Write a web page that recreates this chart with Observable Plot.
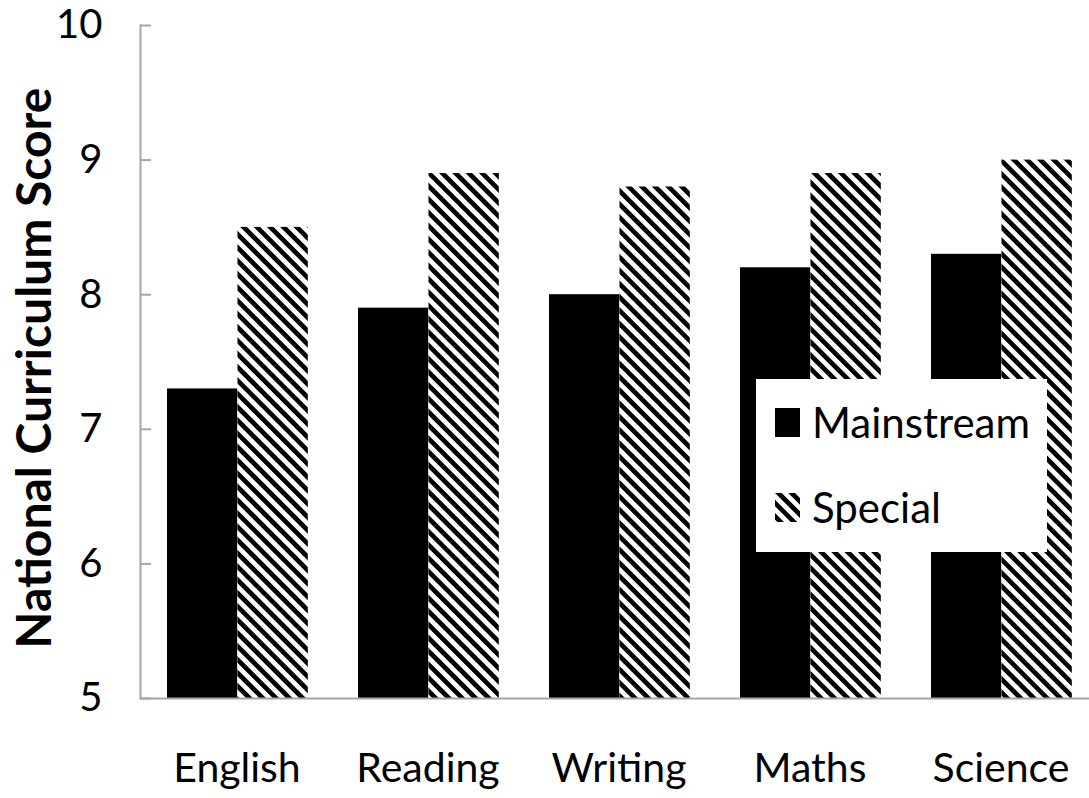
<!DOCTYPE html>
<html>
<head>
<meta charset="utf-8">
<script src="https://cdn.jsdelivr.net/npm/d3@7"></script>
<script src="https://cdn.jsdelivr.net/npm/@observablehq/plot@0.6"></script>
<style>
  html, body { margin: 0; padding: 0; background: #fff; overflow: hidden; }
  #wrap { position: relative; width: 1089px; height: 798px; overflow: hidden; font-family: Lato, "Open Sans", sans-serif; }
  #wrap > svg { max-width: none !important; display: block; }
  #legend { position: absolute; left: 756px; top: 379px; width: 291px; height: 173px; background: #fff; }
  .item { position: absolute; left: 19px; display: flex; align-items: center; font-size: 42px; color: #000; }
  .item svg { margin-right: 12px; }
</style>
</head>
<body>
<div id="wrap"></div>
<script>
const categories = ["English", "Reading", "Writing", "Maths", "Science"];
const mainstream = [7.3, 7.9, 8.0, 8.2, 8.3];
const special = [8.5, 8.9, 8.8, 8.9, 9.0];
const seriesNames = ["Mainstream", "Special"];
const yTicks = [5, 6, 7, 8, 9, 10];
const yLabel = "National Curriculum Score";

const dataM = categories.map((c, i) => ({category: c, series: seriesNames[0], value: mainstream[i]}));
const dataS = categories.map((c, i) => ({category: c, series: seriesNames[1], value: special[i]}));

const gray = "#a6a6a6";
const font = "Lato, 'Open Sans', sans-serif";

const plot = Plot.plot({
  width: 1096,
  height: 798,
  marginLeft: 140,
  marginRight: 0,
  marginTop: 25,
  marginBottom: 100,
  style: {fontFamily: font, fontSize: "41px", color: "#000", background: "#fff", overflow: "visible", maxWidth: "none"},
  x: {domain: categories, padding: 0, label: null},
  y: {domain: [5, 10], ticks: yTicks, label: null},
  marks: [
    Plot.barY(dataM, {x: "category", y1: 5, y2: "value", fill: "#000", insetLeft: 26, insetRight: 94.7}),
    Plot.barY(dataS, {x: "category", y1: 5, y2: "value", fill: "url(#hatch)", insetLeft: 96.5, insetRight: 24.2}),
    Plot.ruleY([5], {stroke: gray, strokeWidth: 2}),
    Plot.frame({anchor: "left", stroke: gray, strokeWidth: 2}),
    Plot.axisY({ticks: yTicks, tickFormat: "d", tickSize: -11, tickPadding: 49, stroke: gray, strokeWidth: 2, strokeOpacity: 1, label: null, fontSize: 40}),
    Plot.axisX({tickSize: 0, tickPadding: 54, label: null, fontSize: 41}),
    Plot.text([yLabel], {frameAnchor: "left", textAnchor: "middle", rotate: -90, dx: -105, dy: 6, fontWeight: "bold", fontSize: 48, fill: "#000"})
  ]
});

// hatch pattern definition
const svg = d3.select(plot);
const defs = svg.insert("defs", ":first-child");
const pat = defs.append("pattern")
  .attr("id", "hatch")
  .attr("patternUnits", "userSpaceOnUse")
  .attr("width", 9.4).attr("height", 9.4)
  .attr("patternTransform", "rotate(-45)");
pat.append("rect").attr("width", 9.4).attr("height", 9.4).attr("fill", "#fff");
pat.append("rect").attr("width", 4.7).attr("height", 9.4).attr("fill", "#000");

const wrap = document.getElementById("wrap");
wrap.appendChild(plot);

// legend
const legend = document.createElement("div");
legend.id = "legend";
const swatchFills = ["#000", "url(#hatchL)"];
const tops = [18, 103];
seriesNames.forEach((name, i) => {
  const item = document.createElement("div");
  item.className = "item";
  item.style.top = tops[i] + "px";
  item.innerHTML = `<svg width="25" height="29" style="display:block">
    <defs><pattern id="hatchL" patternUnits="userSpaceOnUse" width="9.4" height="9.4" patternTransform="rotate(-45)">
      <rect width="9.4" height="9.4" fill="#fff"></rect><rect width="4.7" height="9.4" fill="#000"></rect></pattern></defs>
    <rect width="25" height="29" fill="${swatchFills[i]}"></rect></svg><span>${name}</span>`;
  legend.appendChild(item);
});
wrap.appendChild(legend);
</script>
</body>
</html>
